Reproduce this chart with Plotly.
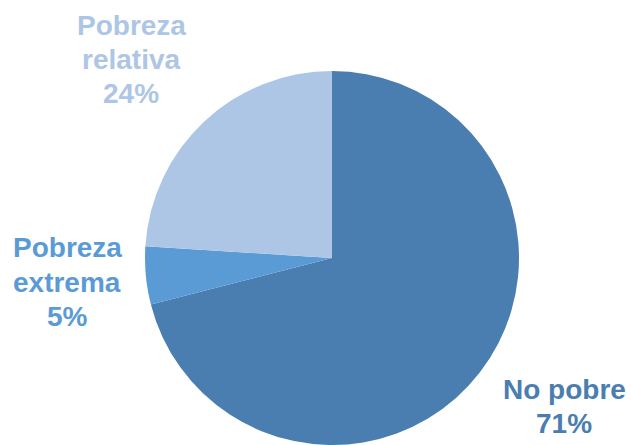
import plotly.graph_objects as go

labels = ["No pobre", "Pobreza extrema", "Pobreza relativa"]
values = [71, 5, 24]
colors = ["#4a7eb0", "#5b9bd5", "#adc6e5"]
label_lines = [["No pobre"], ["Pobreza", "extrema"], ["Pobreza", "relativa"]]

W, H = 631, 445
# label centre x and first baseline y, in pixels from top-left
label_pos = [(564, 399), (67, 258), (131, 35)]
pitch = 34

fig = go.Figure(go.Pie(
    labels=labels,
    values=values,
    sort=False,
    direction="clockwise",
    rotation=0,
    marker=dict(colors=colors, line=dict(width=0)),
    textinfo="none",
    hoverinfo="label+percent",
    showlegend=False,
    domain=dict(x=[(332 - 187) / W, (332 + 187) / W], y=[0, 374 / H]),
))

total = sum(values)
for lines, v, c, (px, py) in zip(label_lines, values, colors, label_pos):
    lines = lines + [f"{round(100 * v / total)}%"]
    for i, line in enumerate(lines):
        yc = py + i * pitch - 10
        fig.add_annotation(
            x=px / W, y=1 - yc / H, xref="paper", yref="paper",
            text=f"<b>{line}</b>",
            showarrow=False, align="center",
            xanchor="center", yanchor="middle",
            font=dict(family="Arial, Liberation Sans", size=28, color=c),
        )

fig.update_layout(
    width=W, height=H,
    margin=dict(l=0, r=0, t=0, b=0),
    paper_bgcolor="white",
    plot_bgcolor="white",
)

fig.write_html("out.html", config={"displayModeBar": False},
               post_script="document.body.style.margin='0';document.body.style.overflow='hidden';")
